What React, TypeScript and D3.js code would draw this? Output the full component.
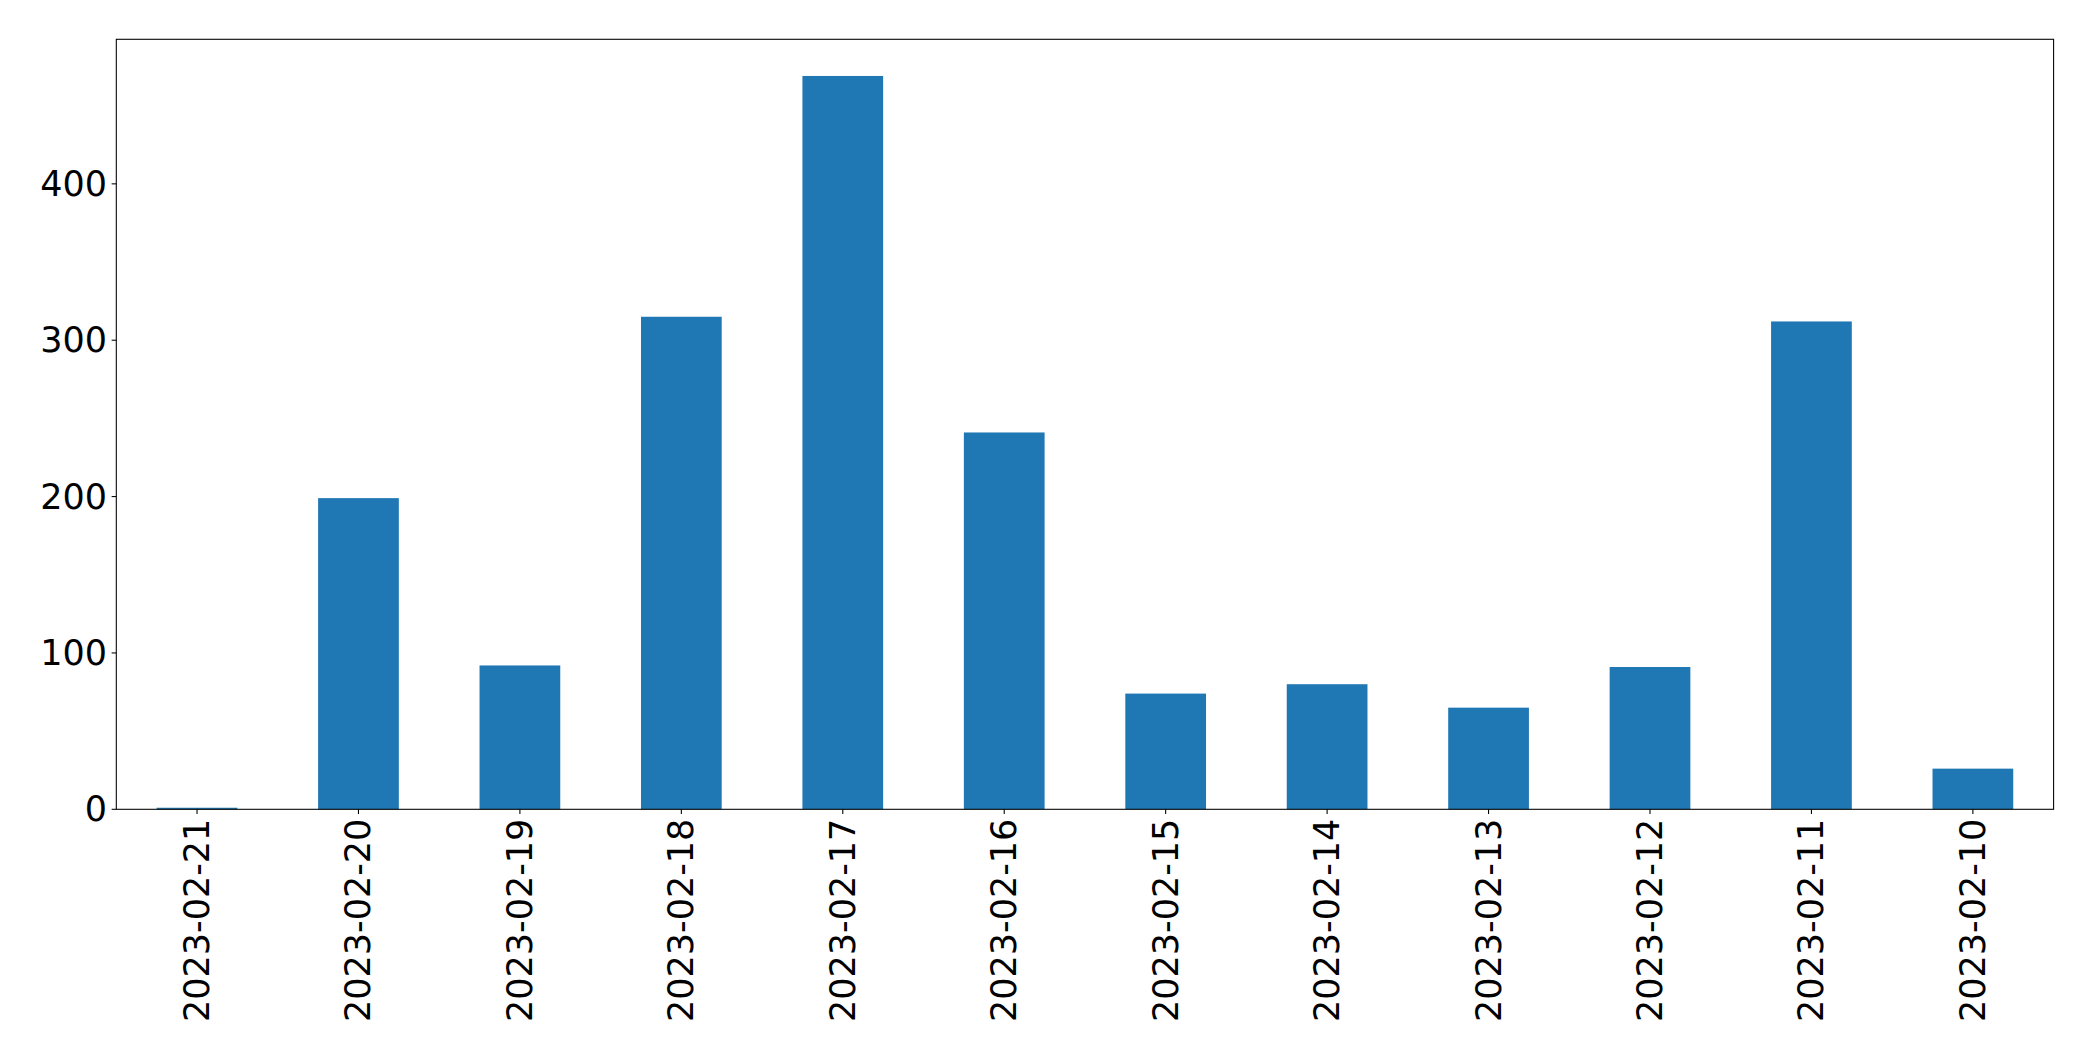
import React from "react";
import * as d3 from "d3";

const categories = [
  "2023-02-21", "2023-02-20", "2023-02-19", "2023-02-18", "2023-02-17", "2023-02-16",
  "2023-02-15", "2023-02-14", "2023-02-13", "2023-02-12", "2023-02-11", "2023-02-10",
];
const values = [1, 199, 92, 315, 469, 241, 74, 80, 65, 91, 312, 26];
const yTicks = [0, 100, 200, 300, 400];

const W = 2093;
const H = 1061;
const margin = { left: 116.3, right: W - 2053.6, top: 39.3, bottom: H - 809.3 };
const FONT = "'DejaVu Sans', sans-serif";
const BAR_COLOR = "#1f77b4";

export default function App() {
  const x0 = margin.left;
  const x1 = W - margin.right;
  const y0 = H - margin.bottom;
  const y1 = margin.top;

  const x = d3.scaleLinear().domain([-0.5, categories.length - 0.5]).range([x0, x1]);
  const yMax = d3.max(values)! * 1.05;
  const y = d3.scaleLinear().domain([0, yMax]).range([y0, y1]);
  const barW = x(0.25) - x(-0.25);

  const tickLen = 4.67;
  const pad = 4.67;

  return (
    <svg
      width={W}
      height={H}
      style={{ position: "absolute", left: 0, top: 0, background: "#fff" }}
      fontFamily={FONT}
    >
      <rect x={0} y={0} width={W} height={H} fill="#fff" />
      {values.map((v, i) => (
        <rect
          key={categories[i]}
          x={x(i) - barW / 2}
          y={y(v)}
          width={barW}
          height={y(0) - y(v)}
          fill={BAR_COLOR}
        />
      ))}
      {/* spines */}
      <rect
        x={x0}
        y={y1}
        width={x1 - x0}
        height={y0 - y1}
        fill="none"
        stroke="#000"
        strokeWidth={1.07}
      />
      {/* y ticks */}
      {yTicks.map((t) => (
        <g key={t}>
          <line x1={x0 - tickLen} x2={x0} y1={y(t)} y2={y(t)} stroke="#000" strokeWidth={1.07} />
          <text
            x={x0 - tickLen - pad}
            y={y(t)}
            textAnchor="end"
            dominantBaseline="central"
            fontSize={35}
            fill="#000"
          >
            {t}
          </text>
        </g>
      ))}
      {/* x ticks */}
      {categories.map((c, i) => (
        <g key={c}>
          <line x1={x(i)} x2={x(i)} y1={y0} y2={y0 + tickLen} stroke="#000" strokeWidth={1.07} />
          <text
            transform={`translate(${x(i)},${y0 + tickLen + pad}) rotate(-90)`}
            textAnchor="end"
            dominantBaseline="central"
            fontSize={35}
            fill="#000"
          >
            {c}
          </text>
        </g>
      ))}
    </svg>
  );
}
